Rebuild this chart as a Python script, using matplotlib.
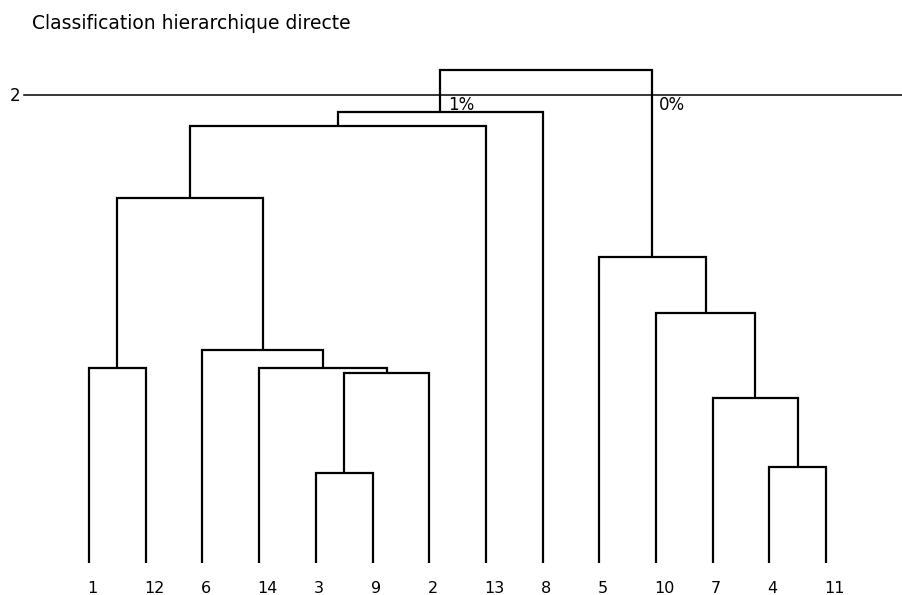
import matplotlib.pyplot as plt

# leaf order along the axis
leaves = ['1', '12', '6', '14', '3', '9', '2', '13', '8', '5', '10', '7', '4', '11']

# merges: node n<i> joins left and right at the given height
merge_left = ['1', '3', 'n1', '14', '6', 'n0', 'n5', 'n6', '4', '7', '10', '5', 'n7']
merge_right = ['12', '9', '2', 'n2', 'n3', 'n4', '13', '8', '11', 'n8', 'n9', 'n10', 'n11']
merge_height = [195, 90, 190, 195, 213, 365, 437, 451, 96, 165, 250, 306, 493]

cut_height = 468
cut_label = '2'
cut_pct = ['1%', '0%']
cut_pct_x = [6.33, 10.05]

plt.rcParams['font.family'] = ['DejaVu Sans']

fig = plt.figure(figsize=(9.02, 5.95), dpi=100)
ax = fig.add_axes([0, 0, 1, 1])
step = 56.7
ax.set_xlim(-89 / step, (902 - 89) / step)
ax.set_ylim(-32, 563)
ax.axis('off')

pos = {}
for i, name in enumerate(leaves):
    pos[name] = (i, 0)

lw = 1.6
for i, (a, b, h) in enumerate(zip(merge_left, merge_right, merge_height)):
    xa, ya = pos[a]
    xb, yb = pos[b]
    ax.plot([xa, xa, xb, xb], [ya, h, h, yb], color='black', lw=lw,
            solid_joinstyle='miter', solid_capstyle='butt')
    pos['n%d' % i] = ((xa + xb) / 2, h)

# leaf labels
for i, name in enumerate(leaves):
    ax.text(i - 0.03, -30, name, ha='left', va='baseline', fontsize=11.5)

# cut line
ax.plot([-65 / step, (902 - 89) / step], [cut_height, cut_height], color='black', lw=1.1)
ax.text(-79 / step, cut_height - 6, cut_label, ha='left', va='baseline', fontsize=12)
for lab, x in zip(cut_pct, cut_pct_x):
    ax.text(x, cut_height - 15, lab, ha='left', va='baseline', fontsize=12)

fig.text(32 / 902, 1 - 29 / 595, 'Classification hierarchique directe',
         ha='left', va='baseline', fontsize=13.5)

fig.savefig('out.png', dpi=100)
